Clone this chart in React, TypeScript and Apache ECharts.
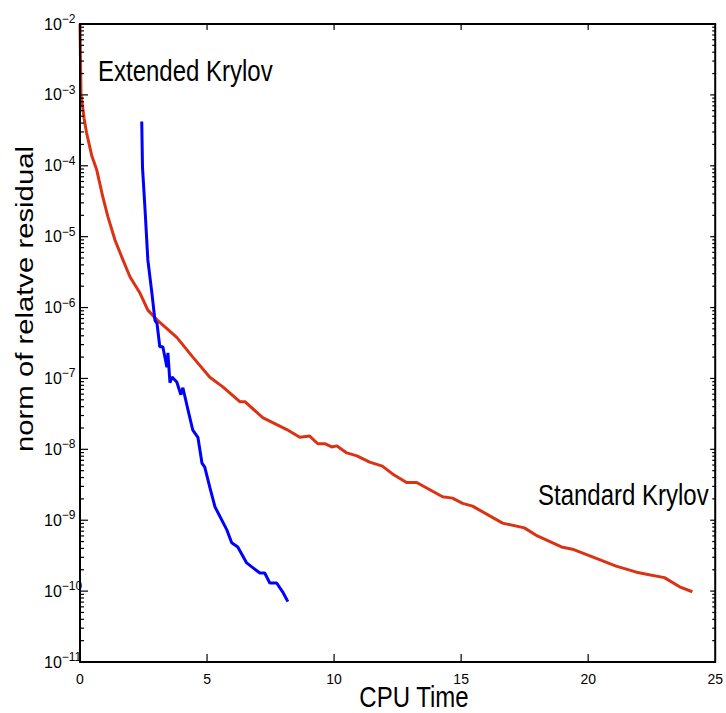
import React, { useEffect, useRef } from "react";
import * as echarts from "echarts";

// Standard Krylov (red): [CPU time, residual norm]
const standardX = [0, 0.02, 0.04, 0.07, 0.16, 0.26, 0.46, 0.66, 0.9, 1.1, 1.38, 1.69, 1.97, 2.36, 2.67, 3.03, 3.81, 4.44, 5.11, 5.62, 6.29, 6.49, 7.19, 8.14, 8.65, 9.04, 9.36, 9.63, 9.91, 10.1, 10.5, 10.9, 11.4, 11.9, 12.3, 12.85, 13.25, 14.27, 14.66, 15.06, 15.45, 16.63, 17.49, 18.0, 18.95, 19.38, 20.32, 21.1, 21.9, 22.4, 23.0, 23.6, 24.1];
const standardY = [1e-2, 3.1e-3, 1e-3, 8.5e-4, 4.7e-4, 2.9e-4, 1.4e-4, 8.7e-5, 3.6e-5, 1.9e-5, 8.9e-6, 4.7e-6, 2.7e-6, 1.6e-6, 9.2e-7, 6.7e-7, 3.8e-7, 2.0e-7, 1.04e-7, 7.6e-8, 4.7e-8, 4.7e-8, 2.8e-8, 1.9e-8, 1.48e-8, 1.54e-8, 1.2e-8, 1.2e-8, 1.08e-8, 1.12e-8, 8.9e-9, 8.1e-9, 6.6e-9, 5.8e-9, 4.5e-9, 3.4e-9, 3.4e-9, 2.14e-9, 2.05e-9, 1.73e-9, 1.58e-9, 9.1e-10, 7.8e-10, 6.0e-10, 4.2e-10, 3.9e-10, 2.9e-10, 2.25e-10, 1.85e-10, 1.7e-10, 1.55e-10, 1.15e-10, 9.8e-11];

// Extended Krylov (blue)
const extendedX = [2.43, 2.46, 2.56, 2.67, 2.83, 2.95, 3.03, 3.14, 3.26, 3.42, 3.46, 3.54, 3.62, 3.81, 3.97, 4.05, 4.25, 4.44, 4.64, 4.8, 4.91, 5.11, 5.31, 5.78, 5.97, 6.21, 6.56, 6.76, 7.08, 7.27, 7.47, 7.74, 7.98, 8.18];
const extendedY = [4.2e-4, 9.5e-5, 2.4e-5, 4.7e-6, 1.6e-6, 6.6e-7, 6.0e-7, 2.8e-7, 2.8e-7, 1.44e-7, 2.3e-7, 8.7e-8, 1.05e-7, 8.9e-8, 5.9e-8, 7.4e-8, 3.6e-8, 1.86e-8, 1.48e-8, 6.4e-9, 5.6e-9, 2.9e-9, 1.55e-9, 7.3e-10, 4.8e-10, 4.2e-10, 2.5e-10, 2.2e-10, 1.8e-10, 1.8e-10, 1.3e-10, 1.3e-10, 9.7e-11, 7.1e-11];

// Axis ranges / ticks
const xTicks = [0, 5, 10, 15, 20, 25];
const yMinExp = -11;
const yMaxExp = -2;
const minorMultipliers = [2, 3, 4, 5, 6, 7, 8, 9];

const xLabel = "CPU Time";
const yLabel = "norm of relatve residual";
const extendedName = "Extended Krylov";
const standardName = "Standard Krylov";

export default function App() {
  const ref = useRef<HTMLDivElement>(null);

  useEffect(() => {
    if (!ref.current) return;
    const chart = echarts.init(ref.current, null, { renderer: "svg" });

    const xMin = xTicks[0];
    const xMax = xTicks[xTicks.length - 1];
    const yMin = Math.pow(10, yMinExp);
    const yMax = Math.pow(10, yMaxExp);

    // tick rows: [x, y, kind] kind: 0 bottom, 1 top, 2 left major, 3 right major, 4 left minor, 5 right minor
    const tickRows: number[][] = [];
    for (const x of xTicks) {
      if (x !== xMin && x !== xMax) {
        tickRows.push([x, yMin, 0]);
        tickRows.push([x, yMin, 1]);
      }
    }
    for (let e = yMinExp; e < yMaxExp; e++) {
      const v = Math.pow(10, e);
      if (e > yMinExp) {
        tickRows.push([xMin, v, 2]);
        tickRows.push([xMin, v, 3]);
      }
      for (const m of minorMultipliers) {
        tickRows.push([xMin, m * v, 4]);
        tickRows.push([xMin, m * v, 5]);
      }
    }

    const font = "'Liberation Sans', Arial, sans-serif";

    chart.setOption({
      animation: false,
      backgroundColor: "#fff",
      grid: { left: 80, right: 10, top: 24, bottom: 51, containLabel: false },
      xAxis: {
        type: "value", min: xMin, max: xMax, interval: 5,
        axisLine: { show: false }, axisTick: { show: false }, splitLine: { show: false },
        axisLabel: { color: "#000", fontSize: 14, fontFamily: font, margin: 10 },
      },
      yAxis: {
        type: "log", logBase: 10, min: yMin, max: yMax, splitNumber: 9,
        axisLine: { show: false }, axisTick: { show: false }, splitLine: { show: false },
        axisLabel: {
          color: "#000", fontFamily: font, align: "left", margin: 36,
          formatter: (v: number) => {
            const e = Math.round(Math.log10(v));
            return "{b|10}{s|\u2212" + Math.abs(e) + "}";
          },
          rich: {
            b: { fontSize: 16, lineHeight: 22, fontFamily: font, color: "#000" },
            s: { fontSize: 12, lineHeight: 12, verticalAlign: "top", fontFamily: font, color: "#000" },
          },
        },
      },
      series: [
        {
          name: standardName,
          type: "line",
          data: standardX.map((x, i) => [x, standardY[i]]),
          showSymbol: false,
          lineStyle: { color: "#dc3214", width: 3 },
          itemStyle: { color: "#dc3214" },
          z: 3,
        },
        {
          name: extendedName,
          type: "line",
          data: extendedX.map((x, i) => [x, extendedY[i]]),
          showSymbol: false,
          lineStyle: { color: "#0000ff", width: 3 },
          itemStyle: { color: "#0000ff" },
          z: 4,
        },
        {
          type: "custom",
          silent: true,
          clip: false,
          z: 10,
          data: [[xMin, yMin]],
          renderItem: (params: any, api: any) => {
            const cs = params.coordSys;
            return {
              type: "rect",
              shape: { x: cs.x, y: cs.y, width: cs.width, height: cs.height },
              style: { fill: "none", stroke: "#000", lineWidth: 2 },
            };
          },
        },
        {
          type: "custom",
          silent: true,
          clip: false,
          z: 10,
          data: tickRows,
          renderItem: (params: any, api: any) => {
            const cs = params.coordSys;
            const p = api.coord([api.value(0), api.value(1)]);
            const k = api.value(2);
            const left = cs.x;
            const right = cs.x + cs.width;
            const top = cs.y;
            const bottom = cs.y + cs.height;
            let shape;
            if (k === 0) shape = { x1: p[0], y1: bottom, x2: p[0], y2: bottom - 8 };
            else if (k === 1) shape = { x1: p[0], y1: top, x2: p[0], y2: top + 6 };
            else if (k === 2) shape = { x1: left, y1: p[1], x2: left + 8, y2: p[1] };
            else if (k === 3) shape = { x1: right, y1: p[1], x2: right - 5, y2: p[1] };
            else if (k === 4) shape = { x1: left, y1: p[1], x2: left + 4, y2: p[1] };
            else shape = { x1: right, y1: p[1], x2: right - 3, y2: p[1] };
            return { type: "line", shape, style: { stroke: "#000", lineWidth: 1.2 } };
          },
        },
      ],
      graphic: [
        {
          type: "text", x: 98, y: 71, scaleY: 1.2,
          style: { text: extendedName, fontSize: 24, fontFamily: font, fill: "#000", align: "left", verticalAlign: "middle" },
        },
        {
          type: "text", x: 538, y: 495, scaleY: 1.2,
          style: { text: standardName, fontSize: 24, fontFamily: font, fill: "#000", align: "left", verticalAlign: "middle" },
        },
        {
          type: "text", x: 414, y: 697, scaleY: 1.2,
          style: { text: xLabel, fontSize: 24, fontFamily: font, fill: "#000", align: "center", verticalAlign: "middle" },
        },
        {
          type: "text", x: 25, y: 299, rotation: Math.PI / 2, scaleX: 1.22,
          style: { text: yLabel, fontSize: 24, fontFamily: font, fill: "#000", align: "center", verticalAlign: "middle" },
        },
      ],
    });

    return () => chart.dispose();
  }, []);

  return <div ref={ref} style={{ position: "absolute", left: 0, top: 0, width: 726, height: 713 }} />;
}
